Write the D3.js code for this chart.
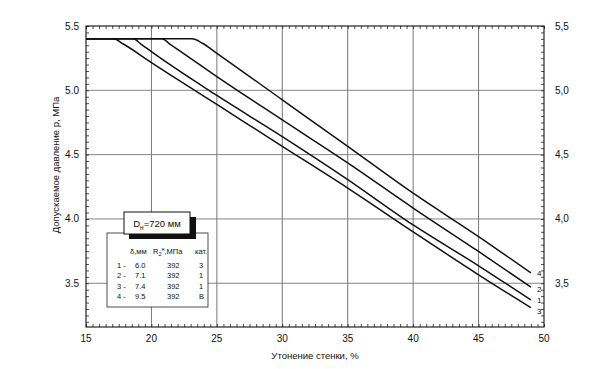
<!DOCTYPE html>
<html><head><meta charset="utf-8">
<script src="https://cdn.jsdelivr.net/npm/d3@7"></script>
<style>body{margin:0;background:#fff}svg{display:block}text{font-family:"Liberation Sans",Arial,sans-serif;fill:#111}</style>
</head><body><svg id="c" width="593" height="369"></svg>
<script>
const xTicks = [15,20,25,30,35,40,45,50];
const yTicksLeft = [3.5,4.0,4.5,5.0,5.5];
const yLabelsLeft = ["3.5","4.0","4.5","5.0","5.5"];
const yLabelsRight = ["3,5","4,0","4,5","5,0","5,5"];
const curveNames = ["1","2","3","4"];
const curve1X = [15,18.6,19.2,20,25,30,35,40,45,49];
const curve1Y = [5.4,5.4,5.36,5.30,4.96,4.64,4.306,3.953,3.636,3.37];
const curve2X = [15,20.8,21.4,25,30,35,40,45,49];
const curve2Y = [5.4,5.4,5.36,5.107,4.77,4.436,4.085,3.747,3.47];
const curve3X = [15,17.1,17.85,20,25,30,35,40,45,49];
const curve3Y = [5.4,5.4,5.36,5.215,4.89,4.565,4.24,3.90,3.566,3.31];
const curve4X = [15,23.1,23.9,25,30,35,40,45,49];
const curve4Y = [5.4,5.4,5.366,5.288,4.926,4.564,4.20,3.863,3.58];
const legendRows = [["1 -","6.0","392","3"],["2 -","7.1","392","1"],["3 -","7.4","392","1"],["4 -","9.5","392","B"]];

const svg = d3.select("#c");
const L=86,R=544,T=26,B=327;
const x = d3.scaleLinear().domain([15,50]).range([L,R]);
const y = d3.scaleLinear().domain([3.16,5.5]).range([B,T]);

// grid
const g = svg.append("g");
g.selectAll(".vg").data(xTicks.slice(1,-1)).enter().append("line")
 .attr("x1",d=>x(d)).attr("x2",d=>x(d)).attr("y1",T).attr("y2",B)
 .attr("stroke","#666").attr("stroke-width",0.9);
g.selectAll(".hg").data(yTicksLeft.slice(0,-1)).enter().append("line")
 .attr("y1",d=>y(d)).attr("y2",d=>y(d)).attr("x1",L).attr("x2",R)
 .attr("stroke","#777").attr("stroke-width",0.9);

// minor ticks
const xMinor = d3.range(15,50.01,0.5);
const yMinor = d3.range(3.2,5.501,0.05).map(v=>+v.toFixed(2));
const axB = d3.axisBottom(x).tickValues(xMinor).tickSize(-3).tickFormat("");
const axT = d3.axisTop(x).tickValues(xMinor).tickSize(-3).tickFormat("");
const axL = d3.axisLeft(y).tickValues(yMinor).tickSize(-3).tickFormat("");
const axR = d3.axisRight(y).tickValues(yMinor).tickSize(-3).tickFormat("");
[[axB,`translate(0,${B})`],[axT,`translate(0,${T})`],[axL,`translate(${L},0)`],[axR,`translate(${R},0)`]].forEach(([a,t])=>{
  const gg=svg.append("g").attr("transform",t).call(a);
  gg.select(".domain").remove();
  gg.selectAll("line").attr("stroke","#222").attr("stroke-width",0.8);
});
svg.append("rect").attr("x",L).attr("y",T).attr("width",R-L).attr("height",B-T)
 .attr("fill","none").attr("stroke","#111").attr("stroke-width",1.1);

// tick labels
svg.selectAll(".xl").data(xTicks).enter().append("text")
 .attr("x",d=>x(d)).attr("y",342).attr("text-anchor","middle").attr("font-size",10).text(d=>d);
svg.selectAll(".yl").data(yTicksLeft).enter().append("text")
 .attr("x",79).attr("y",d=>y(d)+3.5).attr("text-anchor","end").attr("font-size",10).text((d,i)=>yLabelsLeft[i]);
svg.selectAll(".yr").data(yTicksLeft).enter().append("text")
 .attr("x",555).attr("y",d=>y(d)+3.5).attr("text-anchor","start").attr("font-size",10).text((d,i)=>yLabelsRight[i]);

// titles
svg.append("text").attr("x",315).attr("y",359).attr("text-anchor","middle").attr("font-size",9.5).text("Утонение стенки, %");
svg.append("text").attr("transform","translate(59,165) rotate(-90)").attr("text-anchor","middle").attr("font-size",9.5).text("Допускаемое давление р, МПа");

// curves
const line = d3.line().x(d=>x(d[0])).y(d=>y(d[1])).curve(d3.curveMonotoneX);
const curves = [[curve1X,curve1Y],[curve2X,curve2Y],[curve3X,curve3Y],[curve4X,curve4Y]];
const labelShift = [3,5,6,3];
curves.forEach(([cx,cy],i)=>{
  const pts = cx.map((v,j)=>[v,cy[j]]);
  svg.append("path").attr("d",line(pts)).attr("fill","none").attr("stroke","#111").attr("stroke-width",1.5);
  svg.append("text").attr("x",x(cx[cx.length-1])+6).attr("y",y(cy[cy.length-1])+labelShift[i]).attr("font-size",8).text(curveNames[i]);
});

// legend table
svg.append("rect").attr("x",107).attr("y",233).attr("width",101).attr("height",74).attr("fill","#fff").attr("stroke","#222").attr("stroke-width",0.8);
svg.append("rect").attr("x",129).attr("y",217).attr("width",67).attr("height",22).attr("fill","#111");
svg.append("rect").attr("x",124).attr("y",212).attr("width",66).attr("height",22).attr("fill","#fff").attr("stroke","#111").attr("stroke-width",1);
const dt = svg.append("text").attr("x",157).attr("y",227).attr("text-anchor","middle").attr("font-size",9.5);
dt.append("tspan").text("D");
dt.append("tspan").attr("font-size",6.5).attr("dy",2.5).text("н");
dt.append("tspan").attr("dy",-2.5).text("=720 мм");

const hdr = svg.append("g");
hdr.append("text").attr("x",130).attr("y",254).attr("font-size",7.5).text("δ,мм");
const rt = hdr.append("text").attr("x",153).attr("y",254).attr("font-size",7.5);
rt.append("tspan").text("R");
rt.append("tspan").attr("font-size",5.5).attr("dy",2).text("2");
rt.append("tspan").attr("font-size",5.5).attr("dy",-5.5).text("н");
rt.append("tspan").attr("dy",3.5).text(",МПа");
hdr.append("text").attr("x",195).attr("y",254).attr("font-size",7.5).text("кат.");
const colX=[117,135,167,199];
legendRows.forEach((r,i)=>{
  r.forEach((c,j)=>{
    svg.append("text").attr("x",colX[j]).attr("y",268+i*10.3).attr("font-size",7.5).text(c);
  });
});
</script></body></html>
